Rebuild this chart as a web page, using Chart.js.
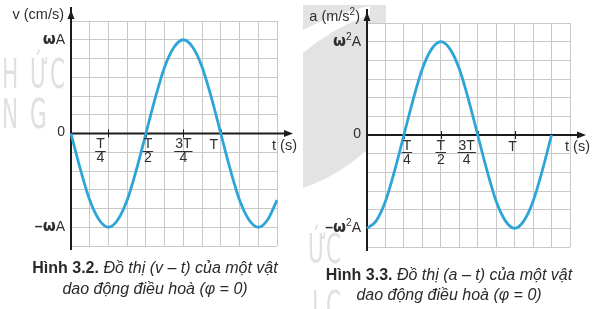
<!DOCTYPE html>
<html>
<head>
<meta charset="utf-8">
<script src="https://cdn.jsdelivr.net/npm/chart.js@4.4.1/dist/chart.umd.min.js"></script>
<style>
  body { margin: 0; background: #fff; }
  #wrap { position: relative; width: 597px; height: 309px; overflow: hidden; font-family: "Liberation Sans", Arial, sans-serif; }
  canvas { position: absolute; top: 0; }
  #vChart { left: 0; }
  #aChart { left: 297px; }
  .cap { position: absolute; text-align: center; font-size: 16px; color: #2a2a2a; line-height: 21px; white-space: nowrap; }
</style>
</head>
<body>
<div id="wrap">
  <canvas id="vChart" width="300" height="309"></canvas>
  <canvas id="aChart" width="300" height="309"></canvas>
  <div class="cap" style="left:0;width:310px;top:257px"><b>Hình 3.2.</b> <i>Đồ thị (v – t) của một vật<br>dao động điều hoà (φ = 0)</i></div>
  <div class="cap" style="left:300px;width:298px;top:265px;line-height:20px"><b>Hình 3.3.</b> <i>Đồ thị (a – t) của một vật<br>dao động điều hoà (φ = 0)</i></div>
</div>
<script>
// time in periods T, values in units of the amplitude (wA or w2A)
const vTimes = [0, 0.0625, 0.125, 0.1875, 0.25, 0.3125, 0.375, 0.4375, 0.5, 0.5625, 0.625, 0.6875,
  0.75, 0.8125, 0.875, 0.9375, 1, 1.0625, 1.125, 1.1875, 1.25, 1.3125, 1.375]
const vValues = [0, -0.38, -0.71, -0.92, -1, -0.92, -0.71, -0.38, 0, 0.38, 0.71, 0.92,
  1, 0.92, 0.71, 0.38, 0, -0.38, -0.71, -0.92, -1, -0.92, -0.71]

const aTimes = [0, 0.0625, 0.125, 0.1875, 0.25, 0.3125, 0.375, 0.4375, 0.5, 0.5625, 0.625, 0.6875,
  0.75, 0.8125, 0.875, 0.9375, 1, 1.0625, 1.125, 1.1875, 1.25]
const aValues = [-1, -0.92, -0.71, -0.38, 0, 0.38, 0.71, 0.92, 1, 0.92, 0.71, 0.38,
  0, -0.38, -0.71, -0.92, -1, -0.92, -0.71, -0.38, 0]

const tickTimes = [0.25, 0.5, 0.75, 1]
const tickLabels = ['T/4', 'T/2', '3T/4', 'T']
const yTickValues = [1, 0, -1]
const vTickLabels = ['ωA', '0', '−ωA']
const aTickLabels = ['ω²A', '0', '−ω²A']

const INK = '#2e2e2e'
const CURVE = '#2ea5d8'
const GRID = '#c8c8c8'
const WATERMARK = '#e0e0e0'

function textRuns(str, size) {
  const out = []
  for (const ch of str) {
    if (ch === 'ω') out.push({ t: ch, font: `bold ${size + 1}px "DejaVu Sans"`, dy: 0 })
    else if (ch === '²') out.push({ t: '2', font: `${Math.round(size * 0.68)}px "Liberation Sans"`, dy: -size * 0.33 })
    else if (ch === '−') out.push({ t: '–', font: `bold ${size}px "Liberation Sans"`, dy: 0 })
    else out.push({ t: ch, font: `${size}px "Liberation Sans"`, dy: 0 })
  }
  return out
}

function drawRuns(ctx, str, size, x, y, align) {
  const runs = textRuns(str, size)
  let w = 0
  runs.forEach(r => { ctx.font = r.font; r.w = ctx.measureText(r.t).width; w += r.w })
  let cx = align === 'right' ? x - w : align === 'center' ? x - w / 2 : x
  ctx.textAlign = 'left'
  ctx.textBaseline = 'middle'
  runs.forEach(r => { ctx.font = r.font; ctx.fillText(r.t, cx, y + r.dy); cx += r.w })
}

function arrowHead(ctx, x, y, dx, dy) {
  // tip at (x, y), pointing along (dx, dy)
  const len = 9, half = 3.5
  ctx.beginPath()
  ctx.moveTo(x, y)
  ctx.lineTo(x - dx * len - dy * half, y - dy * len + dx * half)
  ctx.lineTo(x - dx * len + dy * half, y - dy * len - dx * half)
  ctx.closePath()
  ctx.fill()
}

function watermark(ctx, letters) {
  ctx.save()
  ctx.fillStyle = WATERMARK
  ctx.font = '40px "DejaVu Sans Condensed"'
  ctx.textBaseline = 'alphabetic'
  ctx.textAlign = 'left'
  letters.forEach(([ch, x, y]) => {
    ctx.save()
    ctx.translate(x, y)
    ctx.scale(0.6, 1)
    ctx.fillText(ch, 0, 0)
    ctx.restore()
  })
  ctx.restore()
}

const decor = {
  id: 'decor',
  beforeDraw(chart, args, o) {
    const ctx = chart.ctx
    ctx.save()
    ctx.translate(-o.offset, 0)
    if (o.shade) {
      ctx.fillStyle = '#e3e3e3'
      ctx.beginPath()
      ctx.moveTo(303, 5)
      ctx.lineTo(386, 5)
      ctx.lineTo(386, 23)
      ctx.lineTo(367, 23)
      ctx.lineTo(367, 150)
      ctx.quadraticCurveTo(338, 176, 303, 188)
      ctx.closePath()
      ctx.fill()
      ctx.fillStyle = '#fff'
      ctx.beginPath()
      ctx.moveTo(303, 30)
      ctx.quadraticCurveTo(335, 13, 370, 6)
      ctx.lineTo(370, 15)
      ctx.quadraticCurveTo(334, 27, 303, 53)
      ctx.closePath()
      ctx.fill()
    }
    watermark(ctx, o.letters)
    ctx.restore()
  },
  beforeDatasetsDraw(chart) {
    const { ctx, scales: { x, y } } = chart
    const x0 = x.getPixelForValue(0)
    const y0 = y.getPixelForValue(0)
    ctx.save()
    ctx.strokeStyle = '#1c1c1c'
    ctx.fillStyle = '#1c1c1c'
    ctx.lineWidth = 2
    ctx.beginPath()
    ctx.moveTo(x0, y.bottom + 4)
    ctx.lineTo(x0, y.top - 14)
    ctx.moveTo(x0 - 1, y0)
    ctx.lineTo(x.right + 12, y0)
    ctx.stroke()
    arrowHead(ctx, x0, y.top - 11, 0, -1)
    arrowHead(ctx, x.right + 16, y0, 1, 0)
    ctx.lineWidth = 1
    tickTimes.forEach(t => {
      const px = Math.round(x.getPixelForValue(t)) + 0.5
      ctx.beginPath()
      ctx.moveTo(px, y0 - 4)
      ctx.lineTo(px, y0 + 4)
      ctx.stroke()
    })
    ctx.restore()
  },
  afterDraw(chart, args, o) {
    const { ctx, scales: { x, y } } = chart
    const x0 = x.getPixelForValue(0)
    const y0 = y.getPixelForValue(0)
    ctx.save()
    ctx.fillStyle = INK
    ctx.strokeStyle = INK
    // y tick labels
    yTickValues.forEach((v, i) => drawRuns(ctx, o.yLabels[i], 14, x0 - 6, y.getPixelForValue(v) + (v === 0 ? -1 : 0), 'right'))
    // t tick labels, fractions of T
    tickTimes.forEach((t, i) => {
      const cx = x.getPixelForValue(t) + o.shift[i]
      const parts = tickLabels[i].split('/')
      if (parts.length === 1) {
        drawRuns(ctx, parts[0], 14, cx, y0 + 12, 'center')
        return
      }
      ctx.font = '14px "Liberation Sans"'
      const w = Math.max(ctx.measureText(parts[0]).width, ctx.measureText(parts[1]).width)
      drawRuns(ctx, parts[0], 14, cx, y0 + 11, 'center')
      drawRuns(ctx, parts[1], 14, cx, y0 + 25, 'center')
      ctx.lineWidth = 1
      ctx.beginPath()
      ctx.moveTo(cx - w / 2 - 1, Math.round(y0 + 17) + 0.5)
      ctx.lineTo(cx + w / 2 + 1, Math.round(y0 + 17) + 0.5)
      ctx.stroke()
    })
    // axis titles
    drawRuns(ctx, o.yTitle, 14.5, x0 - 7, y.top - 6, 'right')
    drawRuns(ctx, 't (s)', 14.5, x.right - 5, y0 + 12, 'left')
    ctx.restore()
  }
}

function lineConfig(times, values, pad, opts) {
  return {
    type: 'line',
    data: {
      datasets: [{
        data: times.map((t, i) => ({ x: t, y: values[i] })),
        borderColor: CURVE,
        borderWidth: 2.8,
        pointRadius: 0,
        cubicInterpolationMode: 'monotone',
        clip: false,
      }],
    },
    options: {
      responsive: false,
      animation: false,
      layout: { padding: pad },
      plugins: { legend: { display: false }, tooltip: { enabled: false }, decor: opts },
      scales: {
        x: {
          type: 'linear', min: 0, max: 1.375,
          ticks: { display: false, stepSize: 0.125 },
          grid: { color: GRID, drawTicks: false },
          border: { display: false },
        },
        y: {
          min: -1.2, max: 1.2,
          ticks: { display: false, stepSize: 0.2 },
          grid: { color: GRID, drawTicks: false },
          border: { display: false },
        },
      },
    },
    plugins: [decor],
  }
}

new Chart(document.getElementById('vChart'), lineConfig(vTimes, vValues,
  { left: 71, right: 23, top: 21, bottom: 63 },
  {
    offset: 0, shade: false, yLabels: vTickLabels, yTitle: 'v (cm/s)', shift: [-8, 2, 0, -7],
    letters: [['H', 2, 88], ['Ứ', 30, 88], ['C', 50, 88], ['N', 2, 128], ['G', 30, 128]],
  }))

new Chart(document.getElementById('aChart'), lineConfig(aTimes, aValues,
  { left: 70, right: 27, top: 23, bottom: 62 },
  {
    offset: 297, shade: true, yLabels: aTickLabels, yTitle: 'a (m/s²)', shift: [3, 0, -11, -2],
    letters: [['Ứ', 308, 263], ['C', 326, 263], ['I', 312, 320], ['C', 326, 320]],
  }))
</script>
</body>
</html>
